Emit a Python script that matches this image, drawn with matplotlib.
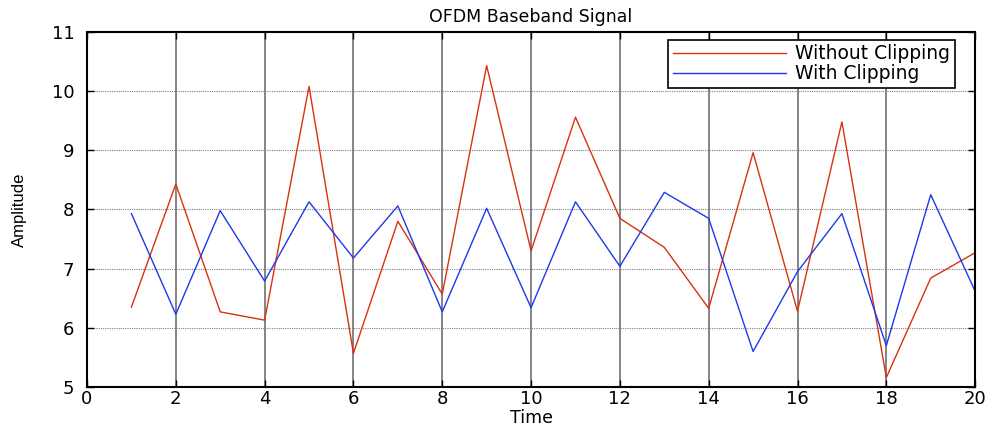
import numpy as np
import matplotlib
matplotlib.use('Agg')
import matplotlib.pyplot as plt

# sample index
time = np.arange(1, 21)

# amplitude
without_clip = [6.35, 8.43, 6.27, 6.13, 10.08, 5.57, 7.80, 6.57, 10.43, 7.30,
                9.56, 7.85, 7.36, 6.33, 8.96, 6.28, 9.48, 5.16, 6.84, 7.27]
with_clip = [7.93, 6.23, 7.98, 6.79, 8.13, 7.18, 8.06, 6.27, 8.02, 6.34,
             8.13, 7.04, 8.29, 7.85, 5.60, 6.95, 7.93, 5.70, 8.25, 6.62]

xticks = np.arange(0, 21, 2)
yticks = np.arange(5, 12, 1)

plt.rcParams['font.family'] = ['DejaVu Sans']

fig = plt.figure(figsize=(9.92, 4.26), dpi=100)
ax = fig.add_axes([0.0877, 0.0915, 0.8953, 0.8335])

ax.plot(time, without_clip, color='#d8320f', linewidth=1.0, label='Without Clipping')
ax.plot(time, with_clip, color='#1c3ae8', linewidth=1.0, label='With Clipping')

ax.set_xlim(0, 20)
ax.set_ylim(5, 11)
ax.set_xticks(xticks)
ax.set_yticks(yticks)

# vertical grid solid, horizontal dotted
for xv in xticks[1:-1]:
    ax.axvline(xv, color='#707070', linewidth=1.2, zorder=0)
for yv in yticks[1:-1]:
    ax.axhline(yv, color='#808080', linewidth=0.8, linestyle=(0, (1, 1)), zorder=0)

ax.tick_params(direction='in', top=True, right=True, labelsize=13, length=5, width=1)
ax.tick_params(axis='y', pad=9)
ax.tick_params(axis='x', pad=2)
for s in ax.spines.values():
    s.set_linewidth(1.5)

ax.set_title('OFDM Baseband Signal', fontsize=12.5, pad=7)
ax.set_xlabel('Time', fontsize=12.5, labelpad=1)
ax.set_ylabel('Amplitude', fontsize=12, labelpad=18, family='Liberation Sans')

leg = ax.legend(loc='upper right', fontsize=13.5, fancybox=False, framealpha=1,
                edgecolor='black', borderpad=0.25, labelspacing=0.05,
                handlelength=6.0, handletextpad=0.5, borderaxespad=0,
                bbox_to_anchor=(0.977, 0.978))
leg.get_frame().set_linewidth(1.2)

fig.savefig('out.png', dpi=100)
